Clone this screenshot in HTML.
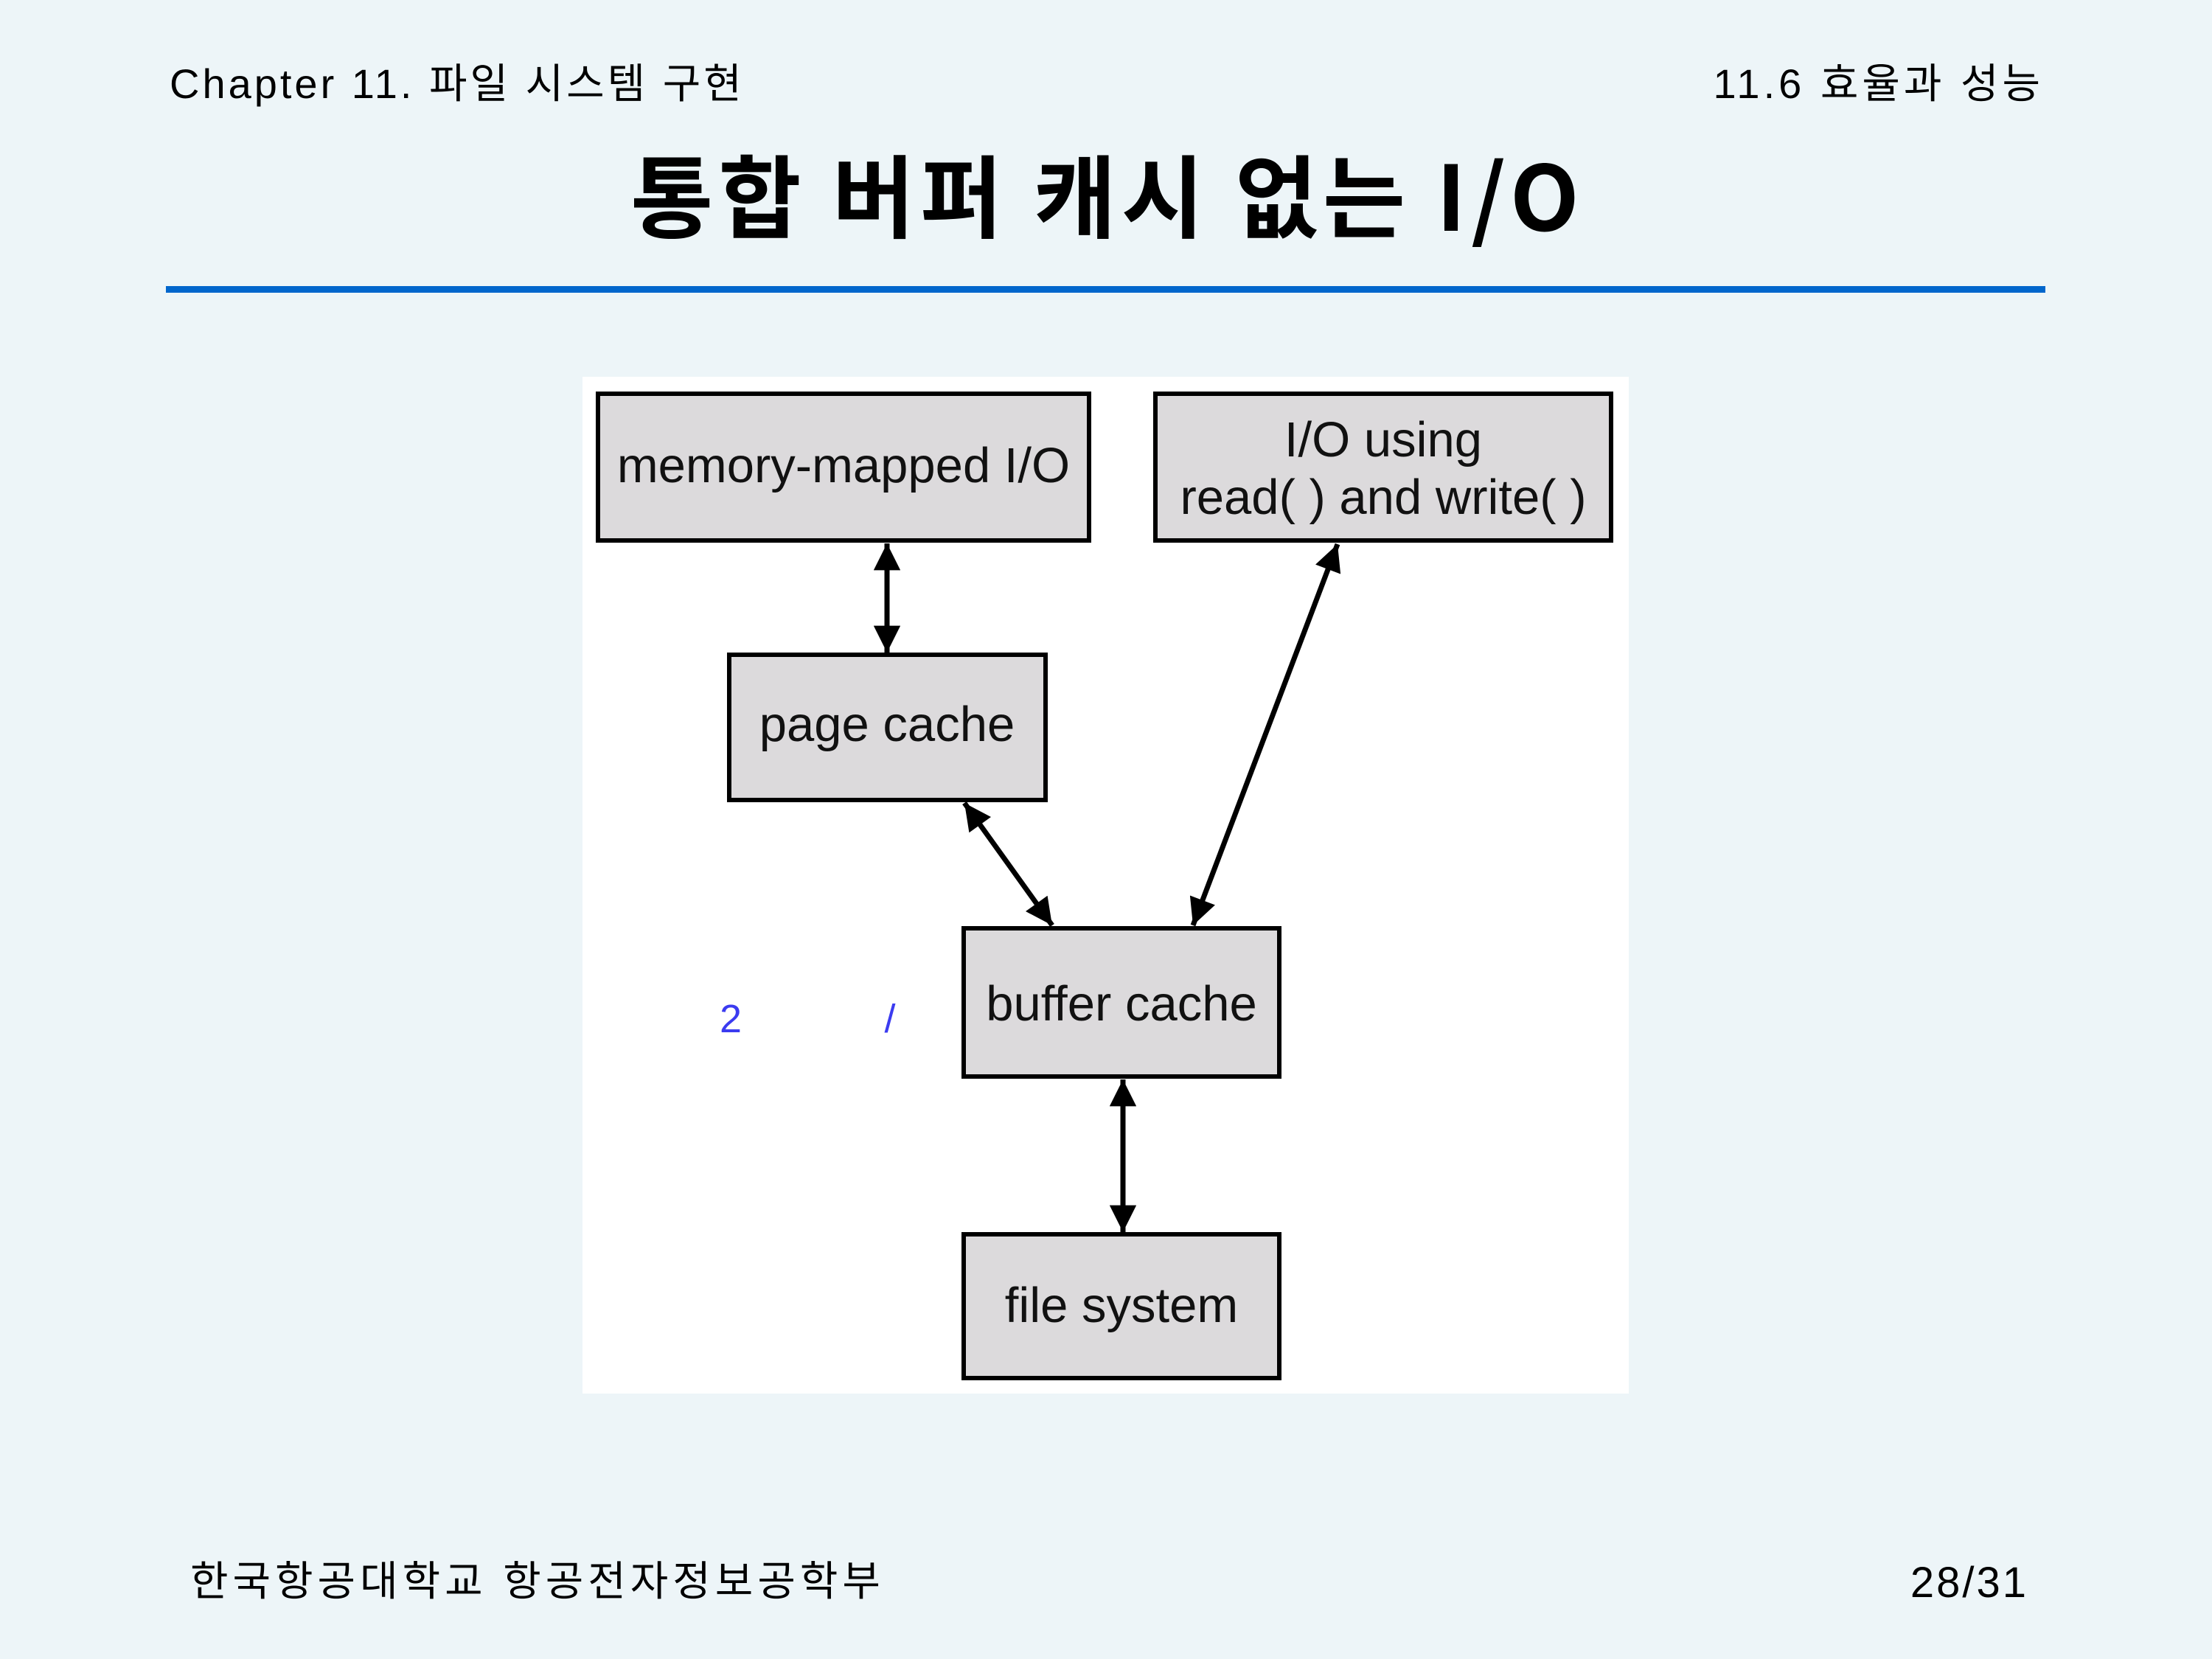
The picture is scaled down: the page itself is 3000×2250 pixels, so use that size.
<!DOCTYPE html>
<html><head><meta charset="utf-8"><style>
html,body{margin:0;padding:0}
body{width:3000px;height:2250px;background:#edf5f8;position:relative;overflow:hidden;font-family:"Liberation Sans","Noto Sans CJK KR",sans-serif;color:#000}
.t{position:absolute;white-space:nowrap;line-height:1}
</style></head><body>
<div class="t" style="left:230px;top:86px;font-size:56px;letter-spacing:4px;">Chapter 11. 파일 시스템 구현</div>
<div class="t" style="right:228px;top:86px;font-size:56px;letter-spacing:5px;">11.6 효율과 성능</div>
<div class="t" style="left:0;width:3004px;text-align:center;top:200px;font-size:122px;font-weight:bold;letter-spacing:7px;font-family:'Noto Sans CJK KR','Liberation Sans',sans-serif;">통합 버퍼 캐시 없는 I/O</div>
<div style="position:absolute;left:225px;top:388px;width:2549px;height:9px;background:#0066cc"></div>
<svg style="position:absolute;left:0;top:0" width="3000" height="2250">
<defs>
<marker id="h" viewBox="0 0 10 10" refX="10" refY="5" markerWidth="7.5" markerHeight="5.2" orient="auto-start-reverse"><path d="M0,0 L10,5 L0,10 z" fill="#000"/></marker>
</defs>
<rect x="790" y="511" width="1419" height="1379" fill="#fff"/>
<g fill="#dcdadc" stroke="#000" stroke-width="6">
<rect x="811" y="534" width="666" height="199"/>
<rect x="1567" y="534" width="618" height="199"/>
<rect x="989" y="888" width="429" height="197"/>
<rect x="1307" y="1259" width="428" height="201"/>
<rect x="1307" y="1674" width="428" height="195"/>
</g>
<g stroke="#000" stroke-width="7" marker-start="url(#h)" marker-end="url(#h)">
<line x1="1203" y1="737" x2="1203" y2="885"/>
<line x1="1308" y1="1089" x2="1427" y2="1255"/>
<line x1="1814" y1="738" x2="1618" y2="1255"/>
<line x1="1523" y1="1464" x2="1523" y2="1671"/>
</g>
<g font-family="Liberation Sans, sans-serif" font-size="67" text-anchor="middle" fill="#111">
<text x="1144" y="654">memory-mapped I/O</text>
<text x="1876" y="619">I/O using</text>
<text x="1876" y="697">read( ) and write( )</text>
<text x="1203" y="1005">page cache</text>
<text x="1521" y="1384">buffer cache</text>
<text x="1521" y="1793">file system</text>
</g>
<g font-family="Liberation Sans, sans-serif" font-size="54" fill="#3b3bf0" text-anchor="middle">
<text x="991" y="1400">2</text>
<text x="1207" y="1400">/</text>
</g>
</svg>
<div class="t" style="left:258px;top:2117px;font-size:56px;letter-spacing:6px;">한국항공대학교 항공전자정보공학부</div>
<div class="t" style="right:249px;top:2118px;font-size:58px;letter-spacing:3px;">28/31</div>
</body></html>
